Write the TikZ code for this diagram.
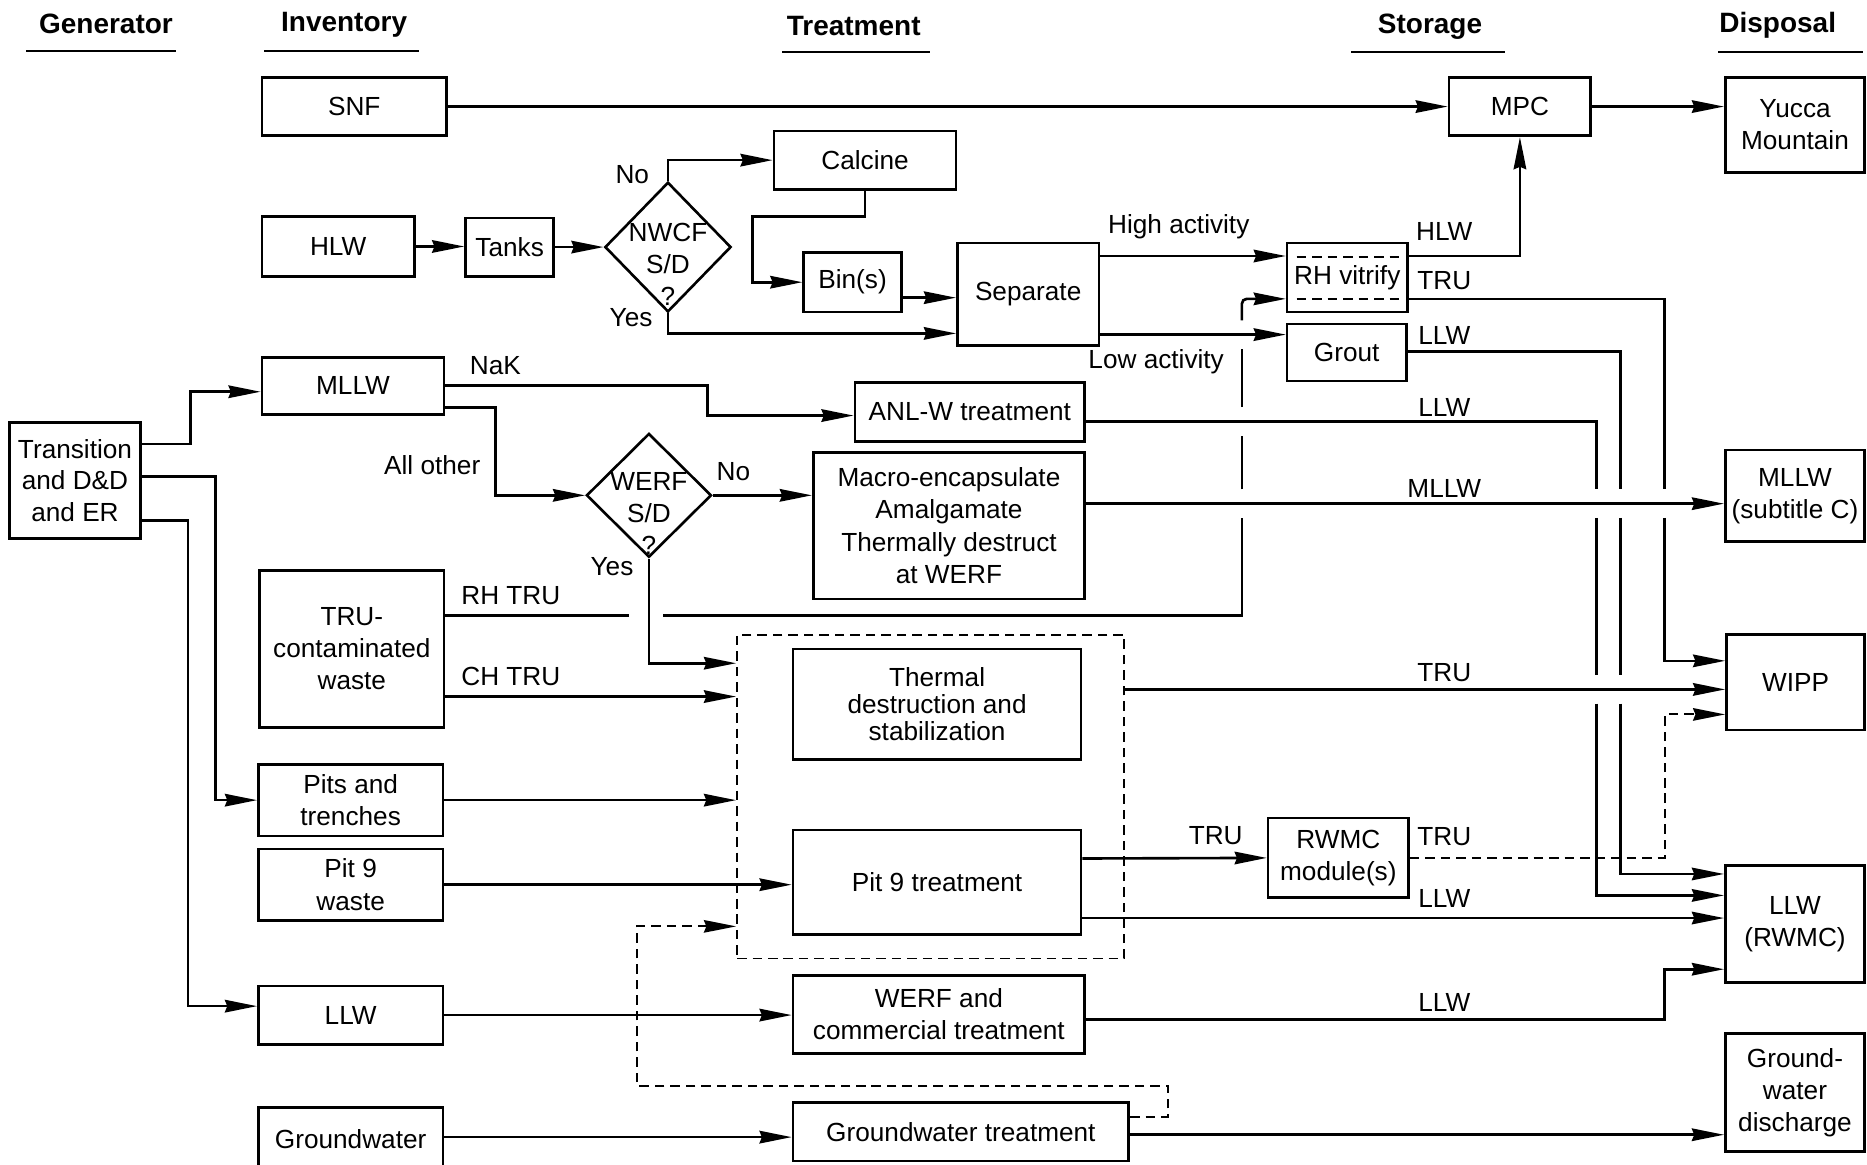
\documentclass[tikz,border=0pt]{standalone}
\usepackage{fontspec}
\setmainfont{Liberation Sans}
\usetikzlibrary{arrows.meta,shapes.geometric}
\begin{document}
\begin{tikzpicture}[x=1pt,y=-1pt,
  every node/.style={font=\fontsize{22}{27}\selectfont, inner sep=0pt, align=center},
  box/.style={draw, line width=2.2pt},
  dia/.style={draw, diamond, line width=2.2pt, inner sep=0pt},
  conn/.style={line width=2.2pt},
  arr/.style={conn, -{Stealth[length=27pt,width=10.5pt,inset=2pt]}},
  dsh/.style={line width=1.6pt, dash pattern=on 8pt off 5pt},
  darr/.style={dsh, -{Stealth[length=27pt,width=10.5pt,inset=2pt]}},
  hdr/.style={font=\fontsize{23.5}{27}\selectfont\bfseries},
  uline/.style={line width=1.8pt},
]
\useasboundingbox (0,0) rectangle (1568,978);
\clip (0,0) rectangle (1568,978);

% headers
\node[hdr] (hgen) at (89,20) {Generator};
\node[hdr] (hinv) at (289,21) {Inventory};
\node[hdr] (htre) at (717,22) {Treatment};
\node[hdr] (hsto) at (1201,22) {Storage};
\node[hdr] (hdis) at (1493,21) {Disposal};
\draw[uline] (22,43) -- (148,43);
\draw[uline] (222,43) -- (352,43);
\draw[uline] (657,44) -- (781,44);
\draw[uline] (1135,44) -- (1264,44);
\draw[uline] (1443,44) -- (1565,44);

% boxes
\node[box, minimum width=155, minimum height=49] (snf) at (297.5,89.5) {SNF};
\node[box, minimum width=128, minimum height=50] (hlw) at (284,207) {HLW};
\node[box, minimum width=74, minimum height=49] (tanks) at (428,207.5) {Tanks};
\node[dia, minimum width=106, minimum height=109] (nwcf) at (561,207.5) {};
\node (nwcft) at (561,222) {\fontsize{22}{23}\selectfont NWCF\\S/D\\?};
\node[box, minimum width=153, minimum height=49] (calcine) at (726.5,134.5) {Calcine};
\node[box, minimum width=82, minimum height=50] (bins) at (716,237) {Bin(s)};
\node[box, minimum width=119, minimum height=86] (sep) at (863.5,247) {Separate};
\node[box, minimum width=101, minimum height=58] (rhv) at (1131.5,233) {RH vitrify};
\node[box, minimum width=100, minimum height=48] (grout) at (1131,296) {Grout};
\node[box, minimum width=119, minimum height=49] (mpc) at (1276.5,89.5) {MPC};
\node[box, minimum width=117, minimum height=80] (yucca) at (1507.5,105) {Yucca\\Mountain};
\node[box, minimum width=153, minimum height=48] (mllw) at (296.5,324) {MLLW};
\node[box, minimum width=193, minimum height=50] (anlw) at (814.5,346) {ANL-W treatment};
\node[box, minimum width=110, minimum height=97, font=\fontsize{22}{26.5}\selectfont] (trans) at (63,403.5) {Transition\\and D\&D\\and ER};
\node[dia, minimum width=105, minimum height=104] (werf) at (545,416) {};
\node (werft) at (545,431) {\fontsize{22}{23}\selectfont WERF\\S/D\\?};
\node[box, minimum width=228, minimum height=123] (macro) at (797,441.5) {Macro-encapsulate\\Amalgamate\\Thermally destruct\\at WERF};
\node[box, minimum width=117, minimum height=77] (mllwc) at (1507.5,416.5) {MLLW\\(subtitle C)};
\node[box, minimum width=155, minimum height=132] (tru) at (295.5,545) {TRU-\\contaminated\\waste};
\node[draw, dsh, minimum width=325, minimum height=272] (dbox) at (781.5,669) {};
\node[box, minimum width=242, minimum height=93, font=\fontsize{22}{22.5}\selectfont] (thermal) at (787,591.5) {Thermal\\destruction and\\stabilization};
\node[box, minimum width=116, minimum height=80] (wipp) at (1508,573) {WIPP};
\node[box, minimum width=155, minimum height=60] (pits) at (294.5,672) {Pits and\\trenches};
\node[box, minimum width=155, minimum height=60] (pit9w) at (294.5,743) {Pit 9\\waste};
\node[box, minimum width=242, minimum height=88] (pit9t) at (787,741) {Pit 9 treatment};
\node[box, minimum width=118, minimum height=67] (rwmc) at (1124,720.5) {RWMC\\module(s)};
\node[box, minimum width=117, minimum height=98] (llwr) at (1507.5,776) {LLW\\(RWMC)};
\node[box, minimum width=155, minimum height=49] (llw) at (294.5,852.5) {LLW};
\node[box, minimum width=245, minimum height=66] (werfc) at (788.5,852) {WERF and\\commercial treatment};
\node[box, minimum width=155, minimum height=80] (gw) at (294.5,970) {Groundwater\\\phantom{x}};
\node[box, minimum width=282, minimum height=49] (gwt) at (807,950.5) {Groundwater treatment};
\node[box, minimum width=117, minimum height=99] (gwd) at (1507.5,917.5) {Ground-\\water\\discharge};

% dashed lines inside RH vitrify
\draw[dsh, line width=1.4pt] (1089,216) -- (1176,216);
\draw[dsh, line width=1.4pt] (1089,251) -- (1176,251);

% labels
\node (lno1) at (531,147) {No};
\node (lyes1) at (530,267) {Yes};
\node (lhigh) at (990,190) {High activity};
\node (llow) at (971,304) {Low activity};
\node (lhlw) at (1213,194) {HLW};
\node (ltru1) at (1213,236) {TRU};
\node (lllw1) at (1213,282) {LLW};
\node (lnak) at (416,307) {NaK};
\node (lllw2) at (1213,342) {LLW};
\node (lall) at (363,391) {All other};
\node (lno2) at (616,396) {No};
\node (lmllw) at (1213,410) {MLLW};
\node (lyes2) at (514,476) {Yes};
\node (lrh) at (429,500) {RH TRU};
\node (lch) at (429,568) {CH TRU};
\node (ltru2) at (1213,565) {TRU};
\node (ltru3) at (1021,702) {TRU};
\node (ltru4) at (1213,703) {TRU};
\node (lllw3) at (1213,755) {LLW};
\node (lllw4) at (1213,842) {LLW};

% connectors
\draw[arr] (snf.east) -- (mpc.west);
\draw[arr] (mpc.east) -- (mpc.east -| yucca.west);
\draw[arr] (hlw.east) -- (hlw.east -| tanks.west);
\draw[arr] (tanks.east) -- (nwcf.west);
\draw[arr] (nwcf.north) |- (calcine.west);
\draw[arr] (nwcf.south) |- (sep.west |- 0,280);
\draw[arr] (calcine.south) |- (632,182) |- (bins.west);
\draw[arr] (bins.east |- 0,250) -- (sep.west |- 0,250);
\draw[arr] (sep.east |- 0,215) -- (rhv.west |- 0,215);
\draw[arr] (sep.east |- 0,281) -- (grout.west |- 0,281);

% RH TRU with bridges
\draw[conn] (tru.east |- 0,517) -- (528,517);
\draw[conn] (557,517) -| (1043,435);
\draw[conn] (1043,411) -- (1043,366);
\draw[conn] (1043,342) -- (1043,293);
\draw[arr, rounded corners=4pt] (1043,269) |- (rhv.west |- 0,251);

% MLLW branches
\draw[arr] (mllw.east) -| (594,349) -- (anlw.west |- 0,349);
\draw[arr] (mllw.east |- 0,342) -| (416,416) -- (werf.west);
\draw[arr] (werf.east) -- (macro.west |- werf.east);
\draw[arr] (werf.south) |- (dbox.west |- 0,557);
\draw[arr] (tru.east |- 0,585) -- (dbox.west |- 0,585);
\draw[arr] (pits.east) -- (dbox.west |- pits.east);
\draw[arr] (pit9w.east) -- (pit9t.west |- pit9w.east);
\draw[darr] (gwt.east |- 0,938) -| (981,912) -| (535,778) -- (dbox.west |- 0,778);
\draw[arr] (llw.east) -- (werfc.west |- llw.east);
\draw[arr] (gw.east |- 0,955) -- (gwt.west |- 0,955);
\draw[arr] (gwt.east |- 0,953) -- (gwd.west |- 0,953);

% generator
\draw[arr] (trans.east |- 0,373) -| (160,329) -- (mllw.west |- 0,329);
\draw[arr] (trans.east |- 0,400) -| (181,672) -- (pits.west);
\draw[arr] (trans.east |- 0,437) -| (158,845) -- (llw.west |- 0,845);

% storage / disposal
\draw[arr] (rhv.east |- 0,215) -| (mpc.south);
\draw[conn] (rhv.east |- 0,251) -| (1398,411);
\draw[arr] (1398,435) |- (wipp.west |- 0,555);
\draw[conn] (grout.east |- 0,295) -| (1361,411);
\draw[conn] (1361,435) -- (1361,567);
\draw[arr] (1361,591) |- (llwr.west |- 0,734);
\draw[conn] (anlw.east |- 0,354) -| (1341,411);
\draw[conn] (1341,435) -- (1341,567);
\draw[arr] (1341,591) |- (llwr.west |- 0,752);
\draw[arr] (macro.east |- 0,423) -- (mllwc.west |- 0,423);
\draw[arr] (dbox.east |- 0,579) -- (wipp.west |- 0,579);
\draw[arr] (pit9t.east |- 0,721) -- (rwmc.west);
\draw[darr] (rwmc.east) -| (1398,600) -- (wipp.west |- 0,600);
\draw[arr] (pit9t.east |- 0,771) -- (llwr.west |- 0,771);
\draw[arr] (werfc.east |- 0,856) -| (1398,814) -- (llwr.west |- 0,814);
\end{tikzpicture}
\end{document}
